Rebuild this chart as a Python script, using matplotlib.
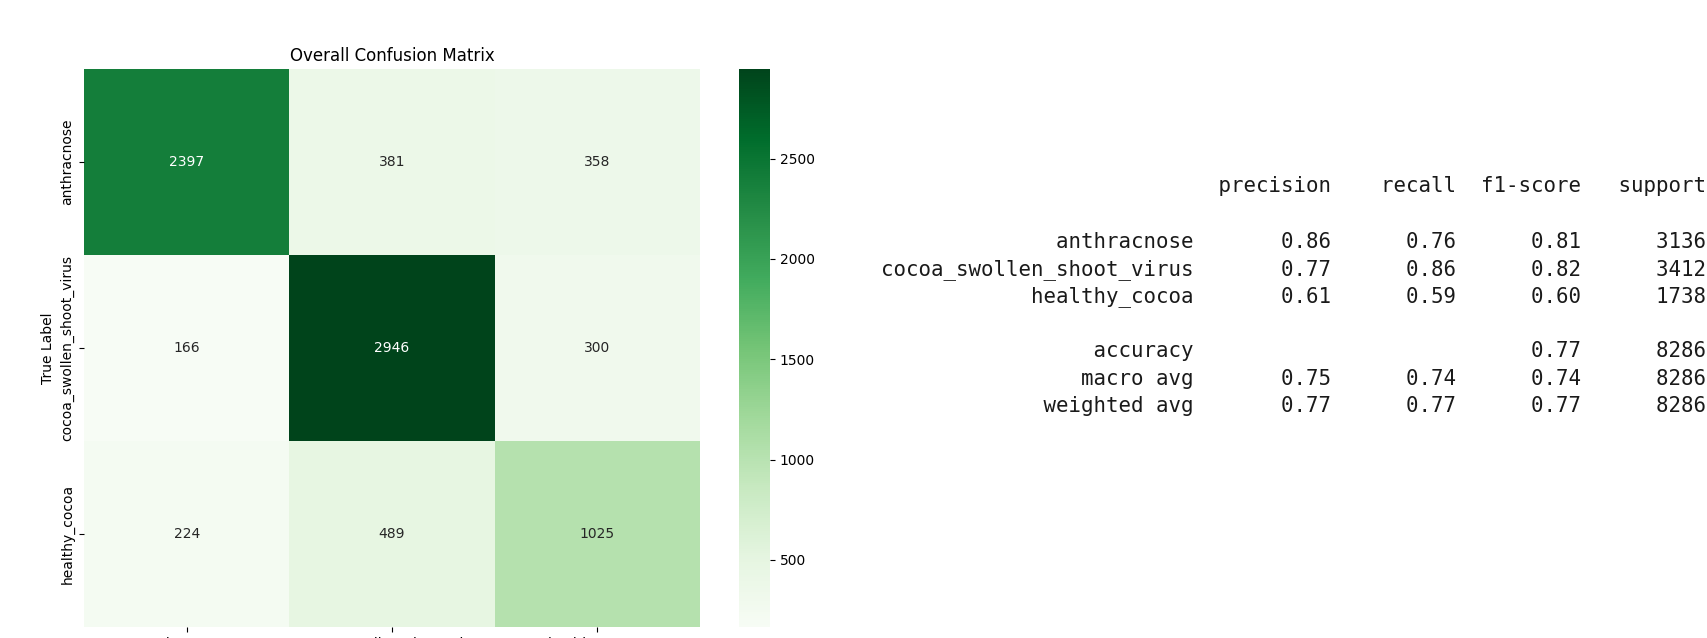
import numpy as np
import matplotlib
matplotlib.use("Agg")
import matplotlib.pyplot as plt
import seaborn as sns

# Class labels and confusion counts (rows = true, cols = predicted)
class_names = ["anthracnose", "cocoa_swollen_shoot_virus", "healthy_cocoa"]
confusion = np.array([
    [2397, 381, 358],
    [166, 2946, 300],
    [224, 489, 1025],
])

# Per-class metrics for the classification report
precision = [0.86, 0.77, 0.61]
recall = [0.76, 0.86, 0.59]
f1_score = [0.81, 0.82, 0.60]
support = [3136, 3412, 1738]

# Summary rows
accuracy = 0.77
total_support = 8286
macro_avg = [0.75, 0.74, 0.74]
weighted_avg = [0.77, 0.77, 0.77]

W, H, DPI = 1708, 638, 100
fig = plt.figure(figsize=(W / DPI, H / DPI), dpi=DPI)


def fx(px):
    return px / W


def fy(py):
    return 1 - py / H


# Heatmap panel
ax = fig.add_axes([fx(84), fy(627), fx(700) - fx(84), fy(69) - fy(627)])
cax = fig.add_axes([fx(739), fy(627), fx(770) - fx(739), fy(69) - fy(627)])
sns.heatmap(confusion, annot=True, fmt="d", cmap="Greens",
            xticklabels=class_names, yticklabels=class_names,
            ax=ax, cbar_ax=cax, annot_kws={"fontsize": 10})
ax.set_title("Overall Confusion Matrix", fontsize=12)
ax.set_ylabel("True Label", fontsize=10)
ax.set_xlabel("Predicted Label", fontsize=10)
ax.tick_params(axis="y", labelsize=10, rotation=90)
ax.tick_params(axis="x", labelsize=10, rotation=0)
for lbl in ax.get_yticklabels():
    lbl.set_va("center")
cax.tick_params(labelsize=10)
cax.set_yticks([500, 1000, 1500, 2000, 2500])

# Classification report, laid out like sklearn's text output
width = max(len(n) for n in class_names)
headers = ["precision", "recall", "f1-score", "support"]
lines = []
lines.append(" " * width + " " + "".join(" {:>9}".format(h) for h in headers))
lines.append("")
for name, p, r, f, s in zip(class_names, precision, recall, f1_score, support):
    lines.append("{:>{w}s} ".format(name, w=width)
                 + "".join(" {:>9.2f}".format(v) for v in (p, r, f))
                 + " {:>9}".format(s))
lines.append("")
lines.append("{:>{w}s} ".format("accuracy", w=width)
             + " {:>9}".format("") * 2
             + " {:>9.2f}".format(accuracy) + " {:>9}".format(total_support))
for name, vals in (("macro avg", macro_avg), ("weighted avg", weighted_avg)):
    lines.append("{:>{w}s} ".format(name, w=width)
                 + "".join(" {:>9.2f}".format(v) for v in vals)
                 + " {:>9}".format(total_support))

line_step = 27.5
first_baseline = 192.5
for i, line in enumerate(lines):
    if not line:
        continue
    fig.text(fx(881.5), fy(first_baseline + i * line_step), line,
             family="DejaVu Sans Mono", fontsize=14.95, color="#1a1a1a",
             ha="left", va="baseline")

fig.savefig("out.png", dpi=DPI)
